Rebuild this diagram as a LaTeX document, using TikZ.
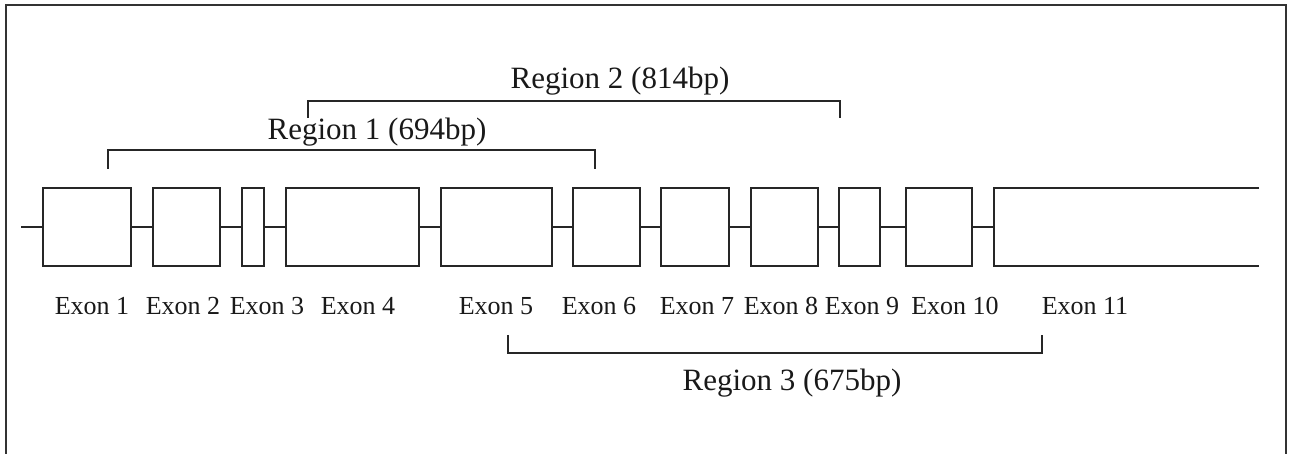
\documentclass[tikz,border=0pt]{standalone}
\usepackage{fontspec}
\setmainfont{Liberation Serif}
\begin{document}
\begin{tikzpicture}[x=0.5pt,y=-0.5pt,
  ln/.style={line width=1pt,black!85},
  exon/.style={ln,draw,rectangle,minimum height=39pt,inner sep=0pt,outer sep=0pt},
  exlab/.style={font=\fontsize{13}{15}\selectfont,inner sep=0pt,text=black!90},
  reglab/.style={font=\fontsize{15.5}{18}\selectfont,inner sep=0pt,text=black!90}]
\useasboundingbox (0,0) rectangle (1292,454);
% frame
\draw[line width=1.1pt,black!80] (6,456) -- (6,5) -- (1286,5) -- (1286,456);
% exons
\node[exon,minimum width=44pt]   (e1)  at (87,227) {};
\node[exon,minimum width=33.5pt] (e2)  at (186.5,227) {};
\node[exon,minimum width=11pt]   (e3)  at (253,227) {};
\node[exon,minimum width=66.5pt] (e4)  at (352.5,227) {};
\node[exon,minimum width=55.5pt] (e5)  at (496.5,227) {};
\node[exon,minimum width=33.5pt] (e6)  at (606.5,227) {};
\node[exon,minimum width=34pt]   (e7)  at (695,227) {};
\node[exon,minimum width=33.5pt] (e8)  at (784.5,227) {};
\node[exon,minimum width=20.5pt] (e9)  at (859.5,227) {};
\node[exon,minimum width=33pt]   (e10) at (939,227) {};
\node[exon,draw=none,minimum width=132.5pt] (e11) at (1126.5,227) {};
\draw[ln] (e11.north east) -- (e11.north west) -- (e11.south west) -- (e11.south east);
% introns
\coordinate (start) at (21,227);
\draw[ln] (start) -- (e1.west);
\foreach \a/\b in {e1/e2,e2/e3,e3/e4,e4/e5,e5/e6,e6/e7,e7/e8,e8/e9,e9/e10,e10/e11}
  \draw[ln] (\a.east) -- (\b.west);
% exon labels
\node[exlab] (l1)  at (92,306)   {Exon 1};
\node[exlab] (l2)  at (183,306)  {Exon 2};
\node[exlab] (l3)  at (267,306)  {Exon 3};
\node[exlab] (l4)  at (358,306)  {Exon 4};
\node[exlab] (l5)  at (496,306)  {Exon 5};
\node[exlab] (l6)  at (599,306)  {Exon 6};
\node[exlab] (l7)  at (697,306)  {Exon 7};
\node[exlab] (l8)  at (781,306)  {Exon 8};
\node[exlab] (l9)  at (862,306)  {Exon 9};
\node[exlab] (l10) at (955,306)  {Exon 10};
\node[exlab] (l11) at (1085,306) {Exon 11};
% region 2
\coordinate (r2a) at (308,118); \coordinate (r2b) at (840,118);
\draw[ln] (r2a) -- (308,101) -- (840,101) -- (r2b);
\node[reglab] (r2) at (620,81) {Region 2 (814bp)};
% region 1
\coordinate (r1a) at (108,169); \coordinate (r1b) at (595,169);
\draw[ln] (r1a) -- (108,150) -- (595,150) -- (r1b);
\node[reglab] (r1) at (377,132) {Region 1 (694bp)};
% region 3
\coordinate (r3a) at (508,335); \coordinate (r3b) at (1042,335);
\draw[ln] (r3a) -- (508,353) -- (1042,353) -- (r3b);
\node[reglab] (r3) at (792,383) {Region 3 (675bp)};
\end{tikzpicture}
\end{document}
